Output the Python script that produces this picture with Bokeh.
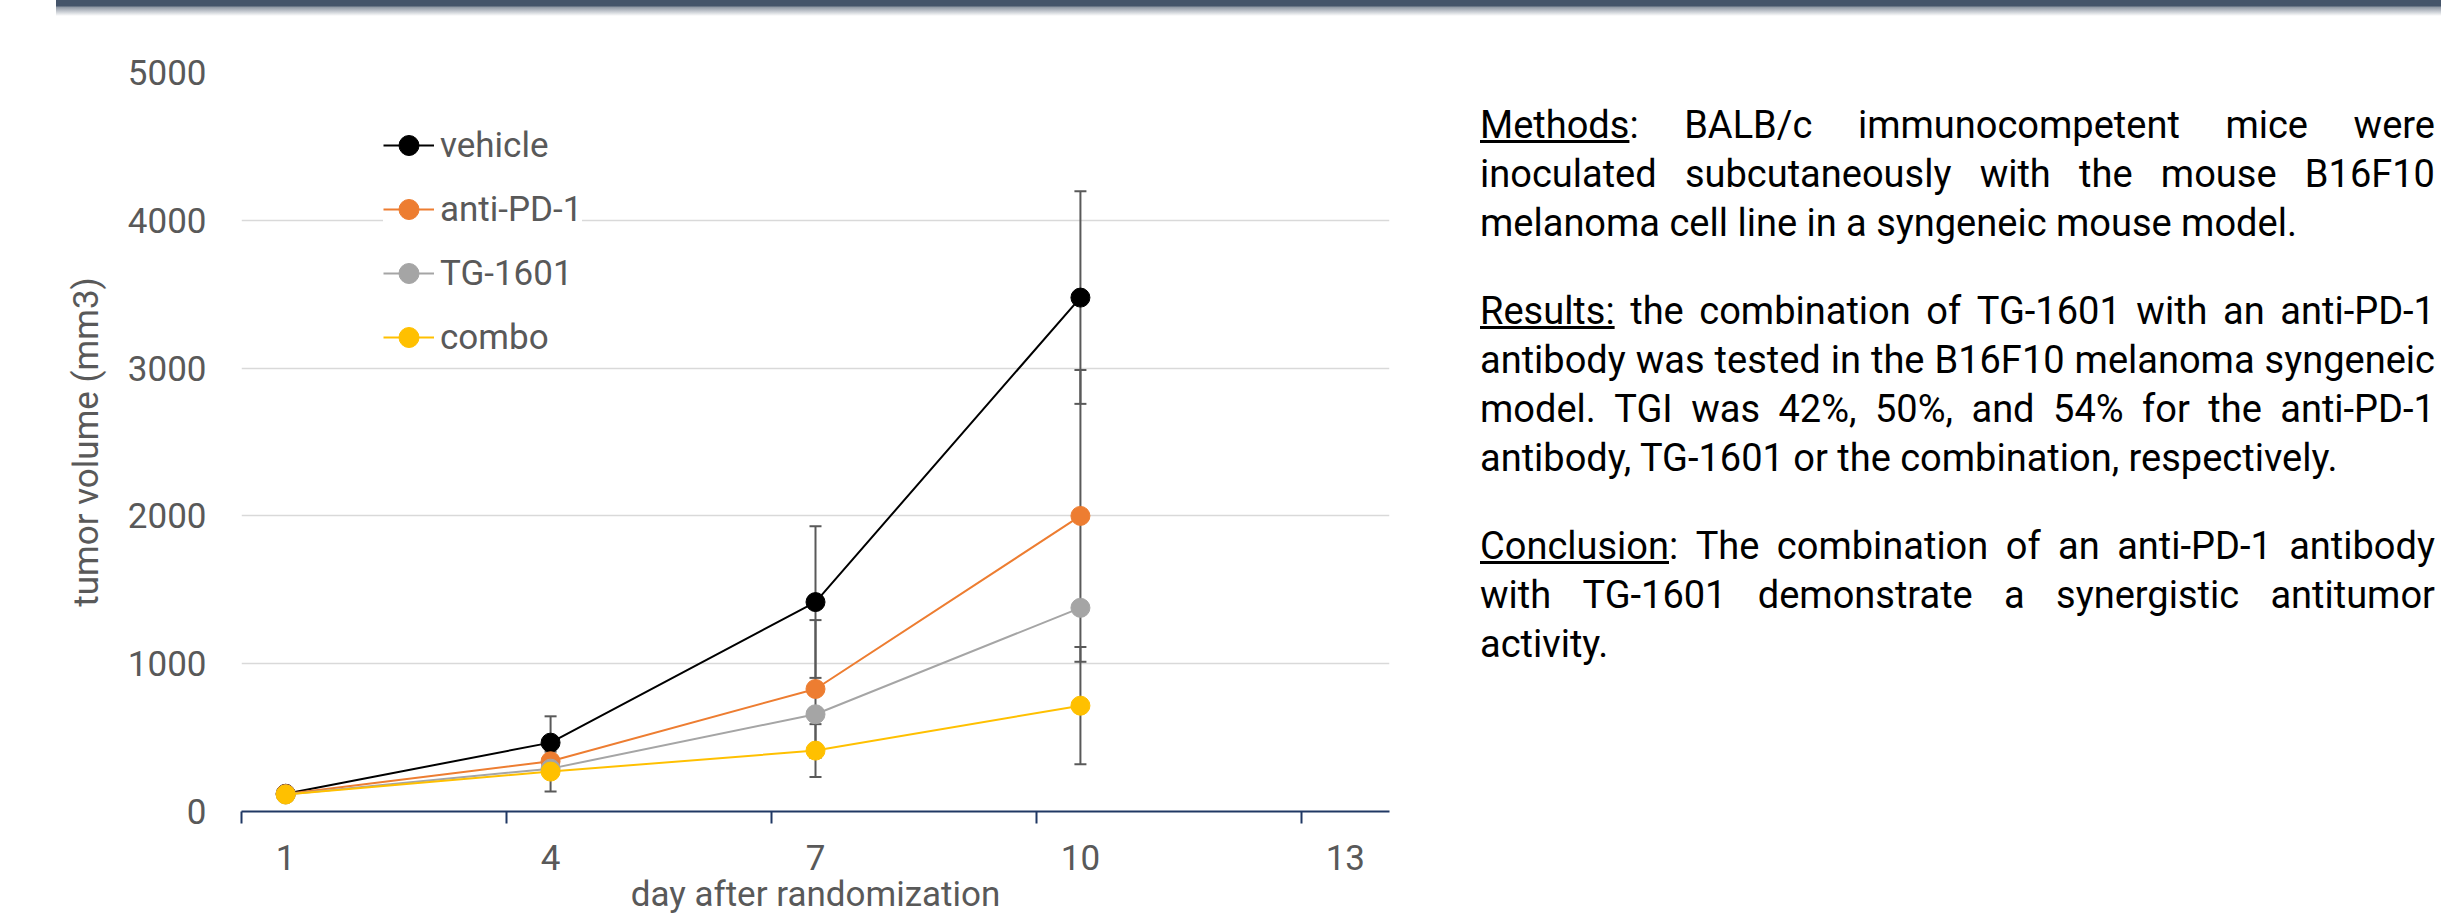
from bokeh.plotting import figure
from bokeh.models import (ColumnDataSource, Range1d, FixedTicker, Whisker, TeeHead,
                          Legend, LegendItem, Div)
from bokeh.layouts import column, row
from bokeh.embed import file_html
from bokeh.resources import INLINE

# ---------------- data ----------------
days = [1, 4, 7, 10]
series_names = ["vehicle", "anti-PD-1", "TG-1601", "combo"]
vehicle = [120, 466, 1417, 3477]
vehicle_sd = [20, 178, 513, 719]
anti_pd1 = [118, 340, 829, 2000]
anti_pd1_sd = [20, 100, 466, 987]
tg1601 = [115, 290, 658, 1378]
tg1601_sd = None
combo = [115, 270, 412, 716]
combo_sd = [15, 135, 179, 397]

x_ticks = [1, 4, 7, 10, 13]
y_ticks = [0, 1000, 2000, 3000, 4000, 5000]

methods_lines = ["<u>Methods</u>: BALB/c immunocompetent mice were",
                 "inoculated subcutaneously with the mouse B16F10",
                 "melanoma cell line in a syngeneic mouse model."]
results_lines = ["<u>Results:</u> the combination of TG-1601 with an anti-PD-1",
                 "antibody was tested in the B16F10 melanoma syngeneic",
                 "model. TGI was 42%, 50%, and 54% for the anti-PD-1",
                 "antibody, TG-1601 or the combination, respectively."]
conclusion_lines = ["<u>Conclusion</u>: The combination of an anti-PD-1 antibody",
                    "with TG-1601 demonstrate a synergistic antitumor",
                    "activity."]

# ---------------- styles ----------------
FONT = "Roboto"
FS = "35px"
GREY_TXT = "#595959"
AXIS_BLUE = "#203864"
colors = ["#000000", "#ED7D31", "#A5A5A5", "#FFC000"]

p = figure(width=1440, height=905, x_range=Range1d(0.5, 13.5), y_range=Range1d(0, 5000),
           output_backend="svg", toolbar_location=None,
           min_border_left=241, min_border_right=51, min_border_top=56, min_border_bottom=110)
p.outline_line_color = None
p.background_fill_color = "white"
p.border_fill_color = "white"
p.xgrid.visible = False
p.ygrid.grid_line_color = "#D9D9D9"
p.ygrid.grid_line_width = 1.5

xa = p.xaxis[0]
xa.ticker = FixedTicker(ticks=x_ticks, minor_ticks=[t - 0.5 for t in x_ticks])
xa.axis_line_color = AXIS_BLUE
xa.axis_line_width = 2
xa.major_tick_line_color = None
xa.major_tick_out = 0
xa.major_tick_in = 0
xa.minor_tick_in = 0
xa.minor_tick_out = 12
xa.minor_tick_line_color = AXIS_BLUE
xa.minor_tick_line_width = 2
xa.major_label_standoff = 21
xa.major_label_text_font = FONT
xa.major_label_text_font_size = FS
xa.major_label_text_color = GREY_TXT
xa.axis_label = "day after randomization"
xa.axis_label_standoff = 1
xa.axis_label_text_font = FONT
xa.axis_label_text_font_size = FS
xa.axis_label_text_font_style = "normal"
xa.axis_label_text_color = GREY_TXT

ya = p.yaxis[0]
ya.ticker = FixedTicker(ticks=y_ticks)
ya.axis_line_color = None
ya.major_tick_line_color = None
ya.major_tick_out = 0
ya.major_tick_in = 0
ya.minor_tick_line_color = None
ya.major_label_standoff = 35
ya.major_label_text_font = FONT
ya.major_label_text_font_size = FS
ya.major_label_text_color = GREY_TXT
ya.axis_label = "tumor volume (mm3)"
ya.axis_label_standoff = 18
ya.axis_label_text_font = FONT
ya.axis_label_text_font_size = FS
ya.axis_label_text_font_style = "normal"
ya.axis_label_text_color = GREY_TXT

values = [vehicle, anti_pd1, tg1601, combo]
sds = [vehicle_sd, anti_pd1_sd, tg1601_sd, combo_sd]

# error bars (beneath everything)
for vals, sd in zip(values, sds):
    if sd is None:
        continue
    src = ColumnDataSource(dict(x=days, upper=[v + s for v, s in zip(vals, sd)],
                                lower=[v - s for v, s in zip(vals, sd)]))
    w = Whisker(source=src, base="x", upper="upper", lower="lower",
                line_color=GREY_TXT, line_width=2, level="underlay",
                upper_head=TeeHead(size=12, line_color=GREY_TXT, line_width=2),
                lower_head=TeeHead(size=12, line_color=GREY_TXT, line_width=2))
    p.add_layout(w)

items = []
for name, vals, col in zip(series_names, values, colors):
    src = ColumnDataSource(dict(x=days, y=vals))
    lr = p.line("x", "y", source=src, line_color=col, line_width=2)
    sr = p.scatter("x", "y", source=src, size=19, fill_color=col, line_color=col)
    items.append(LegendItem(label=name, renderers=[lr, sr]))

legend = Legend(items=items, location=(142, 449), glyph_width=51, glyph_height=50,
                label_standoff=6, padding=9, spacing=14, margin=0,
                border_line_color=None, background_fill_color="white", background_fill_alpha=1,
                label_text_font=FONT, label_text_font_size=FS, label_text_color=GREY_TXT)
p.add_layout(legend)

# ---------------- text panel ----------------
def para(lines, bottom_margin):
    out = []
    for i, ln in enumerate(lines):
        if i == len(lines) - 1:
            out.append(f'<div style="white-space:nowrap">{ln}</div>')
        else:
            words = "".join(f'<span style="white-space:nowrap">{w}</span>' for w in ln.split(" "))
            out.append(f'<div style="display:flex;justify-content:space-between;">{words}</div>')
    return f'<div style="width:955px;margin-bottom:{bottom_margin}px">' + "".join(out) + "</div>"

html = ('<div style="padding:85px 0 0 40px;font-family:Roboto;font-size:38px;'
        'line-height:49px;color:#000000;">'
        + para(methods_lines, 39) + para(results_lines, 39) + para(conclusion_lines, 0)
        + "</div>")
text_div = Div(text=html, width=1001, height=905, margin=(0, 0, 0, 0),
               styles={"overflow": "hidden"})

bar = Div(text="", width=2385, height=16, margin=(0, 0, 0, 56),
          styles={"background": "linear-gradient(to bottom, #44546A 0px, #44546A 6px, #8d96a3 7px, #ffffff 16px)"})

layout = column(bar, row(p, text_div, spacing=0), spacing=0)
open("out.html", "w").write(file_html(layout, INLINE))
